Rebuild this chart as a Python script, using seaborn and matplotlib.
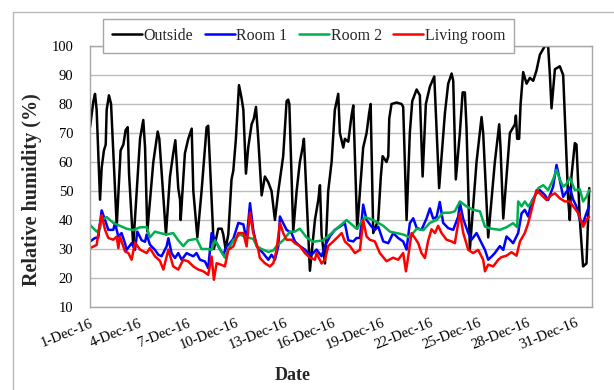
import numpy as np
import pandas as pd
import matplotlib
matplotlib.use("Agg")
import matplotlib.pyplot as plt
from matplotlib.patches import Rectangle
import seaborn as sns

# ---- data: days since 1-Dec-2016 00:00 and relative humidity (%) ----
outside_day = [0.00, 0.21, 0.31, 0.41, 0.62, 0.72, 0.86, 0.97, 1.03, 1.17, 1.30, 1.65, 1.89, 2.06, 2.20, 2.33,
               2.41, 2.67, 3.09, 3.29, 3.40, 3.54, 3.91, 4.18, 4.28, 4.69, 4.94, 5.14, 5.27, 5.45, 5.56, 5.60,
               5.86, 6.07, 6.28, 6.38, 6.63, 6.89, 7.10, 7.20, 7.30, 7.65, 7.92, 8.13, 8.23, 8.37, 8.54, 8.74,
               8.85, 9.01, 9.20, 9.36, 9.47, 9.63, 9.77, 9.98, 10.12, 10.25, 10.39, 10.60, 10.80, 11.01, 11.21,
               11.42, 11.63, 11.93, 12.14, 12.24, 12.31, 12.55, 12.76, 12.96, 13.13, 13.21, 13.58, 13.89, 14.10,
               14.20, 14.30, 14.51, 14.71, 14.92, 15.12, 15.33, 15.43, 15.64, 15.74, 15.95, 16.15, 16.26, 16.50,
               16.87, 17.08, 17.24, 17.33, 17.49, 17.80, 17.96, 18.07, 18.31, 18.42, 18.48, 18.62, 18.93, 19.24,
               19.34, 19.55, 19.75, 19.90, 20.17, 20.37, 20.54, 20.74, 20.99, 21.26, 21.56, 21.92, 22.12, 22.33,
               22.43, 22.59, 22.84, 23.01, 23.15, 23.25, 23.46, 23.87, 24.18, 24.28, 24.59, 25.00, 25.27, 25.35,
               25.52, 25.93, 26.24, 26.30, 26.38, 26.50, 26.59, 26.75, 26.96, 27.16, 27.37, 27.57, 27.78, 28.09,
               28.29, 28.40, 28.50, 28.71, 29.01, 29.22, 29.53, 29.63, 29.73, 29.94, 30.04, 30.25, 30.45, 30.66,
               30.83]
outside_rh = [72, 81, 83.5, 78, 47, 58, 64, 66, 78, 83, 80, 38, 64, 66, 71, 72,
              56, 31, 68, 74.5, 65, 36, 60, 70.5, 68, 35, 55, 63, 67.5, 51, 47, 40,
              63, 68, 71.5, 50, 34, 50, 65, 72, 72.5, 30, 37, 37, 35, 30, 35, 54,
              57, 68, 86.5, 82, 78, 56, 65, 73, 75, 79, 68, 48.5, 55, 53, 50,
              40, 50, 62, 81, 81.5, 80, 36, 50, 60, 65, 68, 22.5, 40, 47,
              52, 35, 25, 50, 60, 78, 83.5, 70, 65, 68, 67, 76, 79.5, 37,
              65, 70, 77, 80, 35.5, 40, 55, 62, 60, 62, 75, 80, 80.5, 80,
              79, 40, 70, 81, 85, 83, 55, 80, 86, 89.5, 51, 77, 87, 90.5,
              88, 54, 70, 84, 84, 72, 30, 60, 75.5, 70, 34, 60, 73, 65,
              40.5, 70, 73, 76, 68, 68, 80, 91, 87, 89, 88, 91.5, 97, 100,
              100, 90, 78.5, 92, 93, 90, 47, 40, 55, 66.5, 66, 40, 24, 25,
              51]

room1_day = [0.00, 0.31, 0.51, 0.72, 0.93, 1.13, 1.44, 1.54, 1.75, 1.95, 2.16, 2.26, 2.57, 2.78, 2.92, 3.19,
             3.40, 3.50, 3.70, 4.01, 4.22, 4.42, 4.73, 4.84, 5.04, 5.25, 5.45, 5.66, 5.97, 6.17, 6.38, 6.58,
             6.79, 7.10, 7.30, 7.51, 7.72, 7.92, 8.23, 8.44, 8.64, 8.85, 9.16, 9.47, 9.67, 9.88, 10.08, 10.29,
             10.70, 11.01, 11.21, 11.42, 11.63, 11.73, 11.93, 12.14, 12.45, 12.65, 12.96, 13.27, 13.48, 13.68,
             13.99, 14.30, 14.51, 14.82, 15.12, 15.43, 15.74, 15.95, 16.26, 16.46, 16.67, 16.87, 17.08, 17.39,
             17.59, 17.80, 18.11, 18.42, 18.72, 19.03, 19.34, 19.55, 19.75, 19.96, 20.17, 20.47, 20.78, 20.99,
             21.19, 21.40, 21.60, 21.81, 22.12, 22.43, 22.74, 22.84, 23.05, 23.36, 23.56, 23.87, 24.18, 24.39,
             24.59, 24.80, 25.00, 25.31, 25.52, 25.72, 25.93, 26.13, 26.44, 26.65, 26.85, 27.06, 27.27, 27.57,
             27.78, 28.09, 28.29, 28.60, 28.81, 29.01, 29.22, 29.43, 29.63, 29.84, 30.04, 30.25, 30.45, 30.66,
             30.82]
room1_rh = [32.6, 33.8, 34, 43.3, 40, 36.6, 36.6, 39, 34.3, 35.5, 32, 29.7, 32, 29.7, 36, 33,
            32.5, 35, 31.5, 29.7, 28, 27.5, 30.9, 33.7, 28.5, 26.9, 28.6, 26.3, 28.6, 28, 27.5, 28.6,
            26.3, 25.7, 23.4, 35.5, 33, 31, 28, 31, 32, 33.5, 39, 38.5, 33, 45.8, 36.6, 31,
            28.5, 26.3, 28, 26.3, 31, 41.2, 38.9, 36.6, 35.5, 32.6, 31, 29.8, 28.6, 28,
            29.8, 27.5, 31, 34.4, 36.6, 37.7, 38.9, 33, 32.6, 33.8, 33.8, 45.3, 40, 37.7,
            36.6, 37.7, 32.6, 32, 35.5, 33.8, 32.6, 29.8, 38.9, 40.6, 37.3, 36.6, 40.5, 44,
            40.5, 41, 46.2, 39, 37.2, 36.6, 41.2, 46, 40.3, 35.5, 33.2, 35.5, 32, 29.7,
            26.3, 27.4, 28.6, 31, 29.7, 34.3, 33.2, 32, 35.5, 42.3, 43.5, 41.2, 46.4, 49.2,
            50.3, 48.6, 46.9, 51.5, 59, 53.8, 48, 49.8, 51.2, 47, 44.7, 40, 39, 42.4,
            44.7]

room2_day = [0.00, 0.41, 0.62, 0.72, 1.03, 1.44, 1.85, 2.26, 2.67, 3.09, 3.50, 3.70, 4.01, 4.32, 4.73, 5.14,
             5.45, 5.76, 6.07, 6.58, 6.89, 7.30, 7.51, 7.72, 8.02, 8.33, 8.54, 8.85, 9.26, 9.67, 10.08, 10.29,
             10.60, 11.01, 11.32, 11.52, 11.93, 12.35, 12.65, 12.96, 13.37, 13.79, 14.40, 14.82, 15.23, 15.84,
             16.46, 16.98, 17.49, 18.11, 18.52, 18.93, 19.34, 19.75, 20.17, 20.58, 20.99, 21.40, 21.81, 22.22,
             22.53, 22.84, 23.25, 23.66, 24.08, 24.39, 24.80, 25.31, 25.72, 26.13, 26.38, 26.44, 26.65, 26.85,
             27.06, 27.37, 27.68, 27.99, 28.29, 28.60, 28.81, 29.01, 29.22, 29.43, 29.63, 29.94, 30.25, 30.45,
             30.66, 30.82]
room2_rh = [38.3, 36, 37, 40, 41, 39, 38, 37, 36.5, 37.5, 37.5, 34, 36, 35.5, 35, 35.5,
            33, 31, 33, 33.5, 30, 30, 29.7, 33, 30, 27, 30, 33, 35, 34, 33.5, 31,
            30, 29, 29.5, 31, 33, 36, 36, 37, 34, 32.5, 33, 35, 37, 40,
            37, 41, 40, 38, 36, 35.5, 35, 34, 37, 36.5, 39, 40, 42.5, 42.5,
            43, 46.4, 44.7, 43.5, 43, 37.7, 37, 36.6, 37.5, 38.9, 37.5, 46.4, 44.7, 46.4,
            44.7, 47, 51, 52, 50.3, 54, 57.3, 54, 51.5, 52.5, 54.6, 50.3, 50.6, 46.4,
            48, 50.3]

living_day = [0.00, 0.41, 0.58, 0.72, 0.93, 1.13, 1.44, 1.65, 1.75, 1.85, 2.16, 2.37, 2.57, 2.78, 3.09, 3.50,
              3.70, 4.01, 4.32, 4.53, 4.84, 5.14, 5.45, 5.76, 6.07, 6.38, 6.69, 7.00, 7.30, 7.51, 7.65, 7.82,
              8.13, 8.33, 8.54, 8.85, 9.16, 9.47, 9.67, 9.88, 10.08, 10.39, 10.49, 10.80, 11.11, 11.32, 11.52,
              11.73, 11.93, 12.14, 12.45, 12.65, 12.96, 13.27, 13.58, 13.89, 13.99, 14.30, 14.51, 14.71, 15.02,
              15.33, 15.54, 15.74, 16.05, 16.36, 16.67, 16.87, 17.08, 17.28, 17.59, 17.90, 18.31, 18.72, 19.03,
              19.34, 19.51, 19.65, 19.86, 20.06, 20.27, 20.47, 20.68, 20.88, 21.09, 21.30, 21.50, 21.71, 22.02,
              22.33, 22.53, 22.84, 23.05, 23.36, 23.66, 23.97, 24.28, 24.39, 24.59, 24.90, 25.21, 25.41, 25.72,
              26.03, 26.34, 26.55, 26.85, 27.06, 27.27, 27.57, 27.88, 28.19, 28.50, 28.71, 29.01, 29.32, 29.63,
              29.84, 30.15, 30.45, 30.66, 30.82]
living_rh = [30.3, 31.4, 37.7, 41.7, 36.6, 33.8, 33.2, 34.3, 30.3, 34.3, 29.2, 28.6, 26.3, 32.2, 29.8, 28.6,
             30.3, 27.5, 25.9, 22.9, 29.8, 24, 22.9, 26.3, 25.7, 24, 22.9, 22.3, 21.1, 27.4, 19.4, 25.1,
             24.5, 24, 29.7, 30.9, 35.5, 35.5, 30.9, 42.5, 35.5, 29.8, 26.9, 25.1, 24, 25.1, 29.7,
             39, 35.5, 33.2, 33.2, 32, 31, 28.6, 27, 26.3, 28.6, 25, 26.3, 31, 32.6,
             34.3, 35.5, 32.6, 31, 28.6, 29.7, 39.9, 34.3, 33.2, 32.6, 28.6, 25.8, 27, 26.3,
             28.6, 22.3, 27.4, 35.5, 33.8, 32, 28.6, 26.9, 32.8, 36.8, 35.5, 38, 35.5, 33.2,
             32.6, 32, 42.4, 35.5, 29.7, 28.6, 29.7, 26.3, 22.3, 24.6, 24, 26.3, 27.2, 27.7,
             28.9, 27.7, 32.6, 35.5, 38.9, 43.5, 50.3, 48.6, 46.9, 48.6, 49.2, 47.5, 46.4, 46.4,
             44.7, 42.4, 37.7, 40, 41.2]

series_names = ["Outside", "Room 1", "Room 2", "Living room"]
series_colors = ["#000000", "#0000ff", "#00b050", "#ff0000"]
y_ticks = [10, 20, 30, 40, 50, 60, 70, 80, 90, 100]
x_tick_dates = ["2016-12-01", "2016-12-04", "2016-12-07", "2016-12-10", "2016-12-13", "2016-12-16",
                "2016-12-19", "2016-12-22", "2016-12-25", "2016-12-28", "2016-12-31"]
x_tick_labels = ["1-Dec-16", "4-Dec-16", "7-Dec-16", "10-Dec-16", "13-Dec-16", "16-Dec-16",
                 "19-Dec-16", "22-Dec-16", "25-Dec-16", "28-Dec-16", "31-Dec-16"]

# ---- build long-form table ----
start = pd.Timestamp("2016-12-01")
frames = []
for name, d, v in zip(series_names,
                      [outside_day, room1_day, room2_day, living_day],
                      [outside_rh, room1_rh, room2_rh, living_rh]):
    frames.append(pd.DataFrame({"Date": start + pd.to_timedelta(np.array(d), unit="D"),
                                "RH": v, "Series": name}))
df = pd.concat(frames, ignore_index=True)

sns.set_theme(style="white")
plt.rcParams["font.family"] = ["Liberation Serif", "DejaVu Serif"]

fig = plt.figure(figsize=(6.14, 3.90), dpi=100)
ax = fig.add_axes([90 / 614, 1 - 307 / 390, 502 / 614, 261 / 390])

# outer chart border
fig.patches.append(Rectangle((13 / 614, -0.05), 1.2, 1 - 12 / 390 + 0.05,
                             transform=fig.transFigure, fill=False,
                             edgecolor="#b8b8b8", linewidth=1.0, zorder=0))

sns.lineplot(data=df, x="Date", y="RH", hue="Series", hue_order=series_names,
             palette=dict(zip(series_names, series_colors)), estimator=None,
             sort=True, linewidth=1.8, ax=ax, legend=False)

ax.set_ylim(10, 100)
ax.set_yticks(y_ticks)
ax.set_xlim(pd.Timestamp("2016-12-01"), pd.Timestamp("2017-01-01"))
ax.set_xticks(pd.to_datetime(x_tick_dates))
ax.set_xticklabels(x_tick_labels, rotation=22, ha="right", rotation_mode="anchor")

ax.grid(axis="y", color="#bdbdbd", linewidth=1.0)
ax.grid(axis="x", visible=False)
for sp in ax.spines.values():
    sp.set_color("#a6a6a6")
    sp.set_linewidth(1.0)
ax.tick_params(axis="both", which="major", direction="out", length=4, width=1,
               color="#a6a6a6", labelsize=10.5, labelcolor="black")
ax.tick_params(axis="y", pad=8)
ax.tick_params(axis="x", pad=3)

ax.set_ylabel("Relative humidity (%)", fontsize=14.5, fontweight="bold")
ax.set_xlabel("Date", fontsize=13, fontweight="bold")
ax.yaxis.set_label_coords(-0.095, 0.45)
ax.xaxis.set_label_coords(0.404, -0.23)

handles = [plt.Line2D([], [], color=c, linewidth=1.8) for c in series_colors]
leg = fig.legend(handles, series_names, loc="upper left",
                 bbox_to_anchor=(103 / 614, 1 - 19 / 390), ncol=4,
                 fontsize=11.5, frameon=True, fancybox=False, framealpha=1,
                 edgecolor="#a6a6a6", handlelength=1.9, handletextpad=0.1,
                 columnspacing=0.7, borderpad=0.55, borderaxespad=0)
leg.get_frame().set_linewidth(1.0)

fig.savefig("out.png", dpi=100)
